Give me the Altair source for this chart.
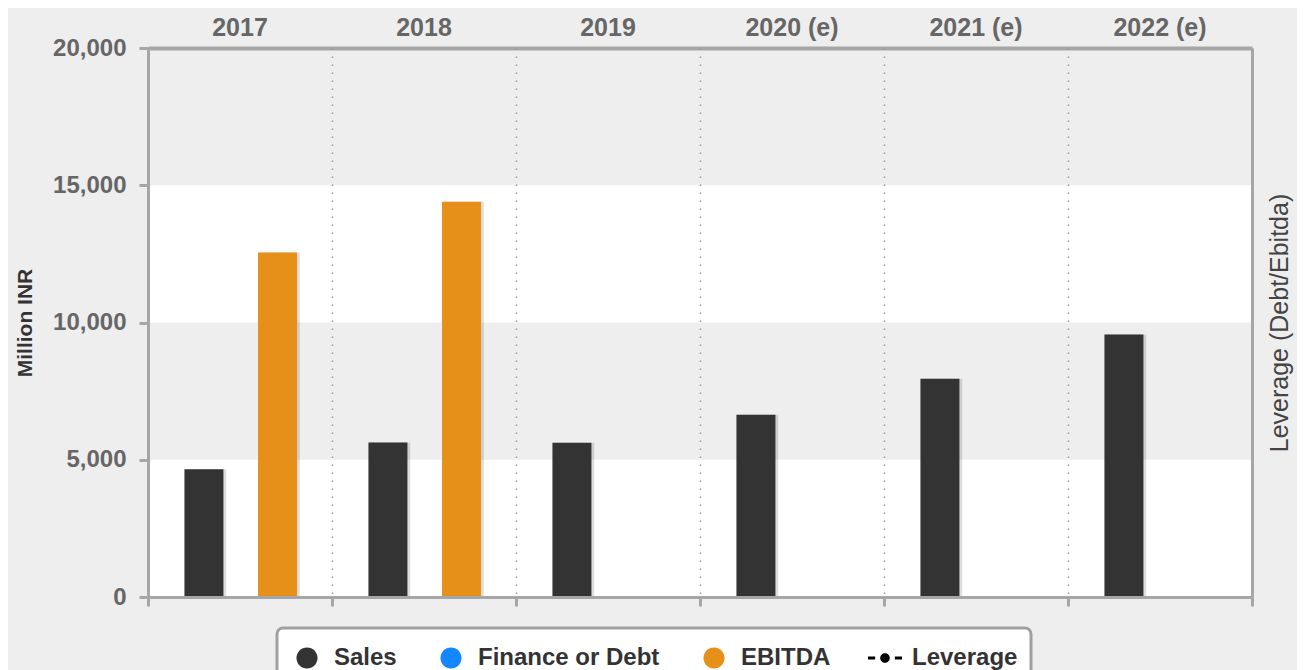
import altair as alt
import pandas as pd

years = ["2017", "2018", "2019", "2020 (e)", "2021 (e)", "2022 (e)"]
sales = [4650, 5630, 5620, 6640, 7950, 9560]
ebitda = [12550, 14400, None, None, None, None]
series = ["Sales", "Finance or Debt", "EBITDA", "Leverage"]
bar_series = ["Sales", "Finance or Debt", "EBITDA"]
series_colors = ["#333333", "#1486ff", "#e68f19", "#000000"]
y_ticks = [0, 5000, 10000, 15000, 20000]
band_lo = [0, 10000]
band_hi = [5000, 15000]

rows = []
for yr, s, e in zip(years, sales, ebitda):
    rows.append({"year": yr, "series": "Sales", "value": s})
    if e is not None:
        rows.append({"year": yr, "series": "EBITDA", "value": e})
df = pd.DataFrame(rows)
bands = pd.DataFrame({"lo": band_lo, "hi": band_hi})

FONT = "Liberation Sans, Arial, sans-serif"
AXIS_GRAY = "#a6a6a6"

yscale = alt.Scale(domain=[0, 20000], nice=False)
xscale = alt.Scale(domain=years, paddingInner=0, paddingOuter=0)

circle_path = "M0.62,0 A0.62,0.62 0 1,1 -0.62,0 A0.62,0.62 0 1,1 0.62,0 Z"
lev_path = ("M-1,-0.09 L-0.58,-0.09 L-0.58,0.09 L-1,0.09 Z "
            "M0.58,-0.09 L1,-0.09 L1,0.09 L0.58,0.09 Z "
            "M0.28,0 A0.28,0.28 0 1,1 -0.28,0 A0.28,0.28 0 1,1 0.28,0 Z")
series_shapes = [circle_path, circle_path, circle_path, lev_path]

color_scale = alt.Scale(domain=series, range=series_colors)
shape_scale = alt.Scale(domain=series, range=series_shapes)


def make_legend():
    return alt.Legend(
        title=None,
        orient="none",
        legendX=129,
        legendY=580,
        direction="horizontal",
        fillColor="white",
        strokeColor="#a0a0a0",
        cornerRadius=6,
        padding=13,
        symbolSize=1156,
        symbolStrokeWidth=0,
        labelFont=FONT,
        labelFontSize=24,
        labelFontWeight="bold",
        labelColor="#333333",
        labelOffset=10,
        columnPadding=37,
        labelLimit=400,
    )


band_layer = alt.Chart(bands).mark_rect(color="white").encode(
    y=alt.Y("lo:Q", scale=yscale, axis=None),
    y2="hi:Q",
)

top_axis = alt.Axis(
    orient="top", title=None, ticks=False, labelAngle=0,
    labelFont=FONT, labelFontSize=25, labelFontWeight="bold", labelColor="#666666",
    labelPadding=8, domainColor=AXIS_GRAY, domainWidth=4, grid=False,
)
left_axis = alt.Axis(
    orient="left", title="Million INR", values=y_ticks, format=",d",
    labelFont=FONT, labelFontSize=24, labelFontWeight="bold", labelColor="#666666",
    labelPadding=13, tickSize=9, tickWidth=3, tickColor=AXIS_GRAY,
    domainColor=AXIS_GRAY, domainWidth=3, grid=False,
    titleFont=FONT, titleFontSize=21, titleFontWeight="bold", titleColor="#333333",
    titlePadding=17, zindex=1,
)

shadow = alt.Chart(df).mark_bar(width=41, color="#000000", opacity=0.13).encode(
    x=alt.X("year:N", sort=years, scale=xscale, axis=None),
    xOffset=alt.XOffset("series:N", scale=alt.Scale(domain=bar_series, paddingInner=0,
                                                     paddingOuter=1, align=0.535)),
    y=alt.Y("value:Q", scale=yscale, axis=None),
)

bars = alt.Chart(df).mark_bar(width=39).encode(
    x=alt.X("year:N", sort=years, scale=xscale, axis=top_axis),
    xOffset=alt.XOffset("series:N", scale=alt.Scale(domain=bar_series, paddingInner=0,
                                                     paddingOuter=1, align=0.51)),
    y=alt.Y("value:Q", scale=yscale, axis=left_axis),
    color=alt.Color("series:N", scale=color_scale, legend=make_legend()),
)

bottom_axis = alt.Axis(
    orient="bottom", title=None, labels=False, tickBand="extent",
    tickSize=9, tickWidth=3, tickColor=AXIS_GRAY,
    domainColor=AXIS_GRAY, domainWidth=3,
    grid=True, gridColor="#9a9a9a", gridWidth=1.5, gridDash=[1.5, 6.5], zindex=1,
)
right_axis = alt.Axis(
    orient="right", title="Leverage (Debt/Ebitda)", labels=False, ticks=False,
    domainColor=AXIS_GRAY, domainWidth=3, grid=False,
    titleFont=FONT, titleFontSize=25, titleFontWeight="normal", titleColor="#444444",
    titleAngle=270, titlePadding=40, zindex=1,
)

frame = alt.Chart(df).mark_point(filled=True, size=0, opacity=1).encode(
    x=alt.X("year:N", sort=years, scale=xscale, axis=bottom_axis),
    y=alt.Y("value:Q", scale=yscale, axis=right_axis),
    color=alt.Color("series:N", scale=color_scale, legend=make_legend()),
    shape=alt.Shape("series:N", scale=shape_scale, legend=make_legend()),
)

chart = (
    alt.layer(band_layer, shadow, bars, frame)
    .resolve_axis(x="independent", y="independent")
    .resolve_scale(xOffset="independent")
    .properties(
        width=1104,
        height=549,
        autosize=alt.AutoSizeParams(type="none"),
        padding={"left": 140, "top": 40, "right": 45, "bottom": 80},
        background="#eeeeee",
    )
    .configure_view(stroke=None)
    .configure_legend(strokeWidth=3)
)

chart.save("out.html", embed_options={"renderer": "svg", "actions": False})
